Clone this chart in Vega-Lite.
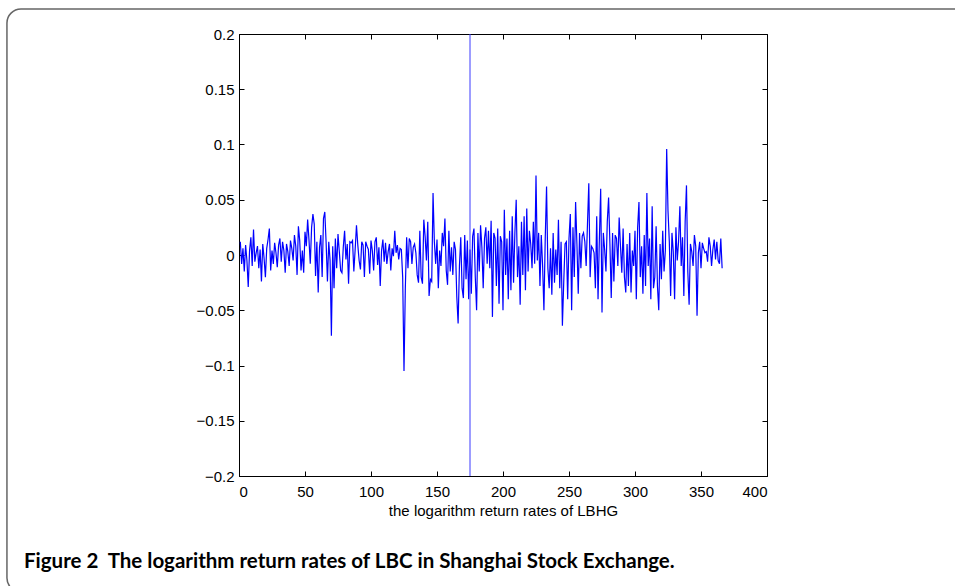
{
  "$schema": "https://vega.github.io/schema/vega-lite/v6.json",
  "autosize": "none",
  "width": 528,
  "height": 442,
  "padding": {"left": 239, "top": 34, "right": 188, "bottom": 110},
  "background": "white",
  "config": {
    "view": {"stroke": "black", "strokeWidth": 1},
    "axis": {
      "labelFont": "Liberation Sans", "labelFontSize": 15, "labelColor": "black",
      "titleFont": "Liberation Sans", "titleFontSize": 15, "titleFontWeight": "normal", "titleColor": "black",
      "domainColor": "black", "tickColor": "black", "grid": false, "tickSize": -5
    }
  },
  "title": {
    "text": "Figure 2\u00a0 The logarithm return rates of LBC in Shanghai Stock Exchange.",
    "orient": "bottom", "anchor": "start", "frame": "group", "dx": -215, "offset": -41,
    "font": "Lato", "fontSize": 20.5, "fontWeight": "bold", "color": "black"
  },
  "datasets": {
    "returns": [
{"t":1,"r":0.012},{"t":2,"r":-0.008},{"t":3,"r":0.006},{"t":4,"r":-0.015},{"t":5,"r":0.009},{"t":6,"r":-0.005},{"t":7,"r":-0.029},{"t":8,"r":0.004},{"t":9,"r":0.016},{"t":10,"r":-0.010},
{"t":11,"r":0.023},{"t":12,"r":-0.006},{"t":13,"r":0.002},{"t":14,"r":0.008},{"t":15,"r":-0.012},{"t":16,"r":0.005},{"t":17,"r":-0.024},{"t":18,"r":0.010},{"t":19,"r":-0.003},{"t":20,"r":-0.020},
{"t":21,"r":0.006},{"t":22,"r":0.014},{"t":23,"r":0.024},{"t":24,"r":-0.014},{"t":25,"r":0.004},{"t":26,"r":-0.008},{"t":27,"r":0.011},{"t":28,"r":0.002},{"t":29,"r":-0.011},{"t":30,"r":0.009},
{"t":31,"r":0.015},{"t":32,"r":-0.006},{"t":33,"r":0.012},{"t":34,"r":0.004},{"t":35,"r":-0.016},{"t":36,"r":0.010},{"t":37,"r":0.003},{"t":38,"r":-0.010},{"t":39,"r":0.013},{"t":40,"r":0.006},
{"t":41,"r":-0.005},{"t":42,"r":0.018},{"t":43,"r":0.008},{"t":44,"r":-0.018},{"t":45,"r":0.026},{"t":46,"r":0.013},{"t":47,"r":-0.014},{"t":48,"r":0.004},{"t":49,"r":-0.016},{"t":50,"r":0.021},
{"t":51,"r":0.008},{"t":52,"r":0.032},{"t":53,"r":0.014},{"t":54,"r":-0.008},{"t":55,"r":0.025},{"t":56,"r":0.037},{"t":57,"r":0.028},{"t":58,"r":-0.019},{"t":59,"r":0.012},{"t":60,"r":-0.034},
{"t":61,"r":0.007},{"t":62,"r":0.018},{"t":63,"r":-0.020},{"t":64,"r":0.033},{"t":65,"r":0.039},{"t":66,"r":0.011},{"t":67,"r":-0.024},{"t":68,"r":0.012},{"t":69,"r":-0.005},{"t":70,"r":-0.073},
{"t":71,"r":0.008},{"t":72,"r":-0.030},{"t":73,"r":0.015},{"t":74,"r":-0.012},{"t":75,"r":0.019},{"t":76,"r":0.003},{"t":77,"r":-0.014},{"t":78,"r":-0.016},{"t":79,"r":0.007},{"t":80,"r":0.022},
{"t":81,"r":-0.004},{"t":82,"r":0.010},{"t":83,"r":-0.026},{"t":84,"r":0.012},{"t":85,"r":0.011},{"t":86,"r":0.013},{"t":87,"r":-0.015},{"t":88,"r":0.005},{"t":89,"r":0.027},{"t":90,"r":0.009},
{"t":91,"r":-0.005},{"t":92,"r":-0.013},{"t":93,"r":0.012},{"t":94,"r":0.009},{"t":95,"r":-0.020},{"t":96,"r":0.012},{"t":97,"r":0.008},{"t":98,"r":0.005},{"t":99,"r":-0.017},{"t":100,"r":0.013},
{"t":101,"r":0.004},{"t":102,"r":-0.014},{"t":103,"r":0.012},{"t":104,"r":0.016},{"t":105,"r":-0.009},{"t":106,"r":0.007},{"t":107,"r":-0.028},{"t":108,"r":0.004},{"t":109,"r":0.014},{"t":110,"r":-0.006},
{"t":111,"r":0.011},{"t":112,"r":-0.008},{"t":113,"r":0.003},{"t":114,"r":0.010},{"t":115,"r":-0.014},{"t":116,"r":0.006},{"t":117,"r":-0.001},{"t":118,"r":0.022},{"t":119,"r":0.002},{"t":120,"r":0.009},
{"t":121,"r":-0.004},{"t":122,"r":0.006},{"t":123,"r":0.005},{"t":124,"r":-0.020},{"t":125,"r":-0.105},{"t":126,"r":-0.030},{"t":127,"r":0.016},{"t":128,"r":-0.012},{"t":129,"r":0.015},{"t":130,"r":0.012},
{"t":131,"r":-0.008},{"t":132,"r":0.007},{"t":133,"r":0.010},{"t":134,"r":0.002},{"t":135,"r":-0.018},{"t":136,"r":-0.025},{"t":137,"r":0.022},{"t":138,"r":-0.020},{"t":139,"r":-0.026},{"t":140,"r":0.032},
{"t":141,"r":0.017},{"t":142,"r":-0.005},{"t":143,"r":0.030},{"t":144,"r":-0.037},{"t":145,"r":-0.022},{"t":146,"r":-0.024},{"t":147,"r":0.056},{"t":148,"r":0.012},{"t":149,"r":-0.008},{"t":150,"r":0.014},
{"t":151,"r":-0.030},{"t":152,"r":0.004},{"t":153,"r":-0.010},{"t":154,"r":0.020},{"t":155,"r":0.008},{"t":156,"r":0.033},{"t":157,"r":-0.014},{"t":158,"r":-0.027},{"t":159,"r":0.022},{"t":160,"r":-0.015},
{"t":161,"r":0.007},{"t":162,"r":-0.018},{"t":163,"r":0.012},{"t":164,"r":0.005},{"t":165,"r":-0.038},{"t":166,"r":-0.062},{"t":167,"r":-0.010},{"t":168,"r":0.016},{"t":169,"r":-0.030},{"t":170,"r":-0.039},
{"t":171,"r":0.018},{"t":172,"r":-0.022},{"t":173,"r":0.013},{"t":174,"r":-0.040},{"t":175,"r":0.005},{"t":176,"r":-0.035},{"t":177,"r":0.017},{"t":178,"r":0.024},{"t":179,"r":-0.020},{"t":180,"r":-0.050},
{"t":181,"r":0.020},{"t":182,"r":-0.015},{"t":183,"r":0.027},{"t":184,"r":0.007},{"t":185,"r":-0.030},{"t":186,"r":0.015},{"t":187,"r":0.025},{"t":188,"r":-0.008},{"t":189,"r":0.022},{"t":190,"r":-0.012},
{"t":191,"r":0.031},{"t":192,"r":-0.056},{"t":193,"r":0.020},{"t":194,"r":0.015},{"t":195,"r":-0.028},{"t":196,"r":0.024},{"t":197,"r":-0.044},{"t":198,"r":0.017},{"t":199,"r":0.012},{"t":200,"r":-0.050},
{"t":201,"r":0.041},{"t":202,"r":-0.018},{"t":203,"r":0.015},{"t":204,"r":-0.040},{"t":205,"r":0.022},{"t":206,"r":-0.032},{"t":207,"r":0.035},{"t":208,"r":-0.025},{"t":209,"r":0.020},{"t":210,"r":0.050},
{"t":211,"r":-0.020},{"t":212,"r":0.008},{"t":213,"r":-0.045},{"t":214,"r":0.030},{"t":215,"r":-0.018},{"t":216,"r":0.035},{"t":217,"r":-0.032},{"t":218,"r":0.042},{"t":219,"r":-0.015},{"t":220,"r":0.022},
{"t":221,"r":0.010},{"t":222,"r":-0.012},{"t":223,"r":0.030},{"t":224,"r":-0.008},{"t":225,"r":0.072},{"t":226,"r":-0.005},{"t":227,"r":0.020},{"t":228,"r":-0.028},{"t":229,"r":0.018},{"t":230,"r":-0.010},
{"t":231,"r":-0.050},{"t":232,"r":0.015},{"t":233,"r":0.062},{"t":234,"r":-0.012},{"t":235,"r":-0.030},{"t":236,"r":0.006},{"t":237,"r":-0.036},{"t":238,"r":0.020},{"t":239,"r":-0.025},{"t":240,"r":0.005},
{"t":241,"r":-0.018},{"t":242,"r":0.032},{"t":243,"r":-0.030},{"t":244,"r":0.012},{"t":245,"r":-0.064},{"t":246,"r":-0.025},{"t":247,"r":0.010},{"t":248,"r":0.012},{"t":249,"r":-0.040},{"t":250,"r":0.015},
{"t":251,"r":0.037},{"t":252,"r":-0.050},{"t":253,"r":0.025},{"t":254,"r":-0.020},{"t":255,"r":0.048},{"t":256,"r":0.010},{"t":257,"r":-0.035},{"t":258,"r":0.020},{"t":259,"r":-0.012},{"t":260,"r":0.017},
{"t":261,"r":0.020},{"t":262,"r":0.012},{"t":263,"r":-0.010},{"t":264,"r":0.028},{"t":265,"r":0.065},{"t":266,"r":-0.020},{"t":267,"r":0.008},{"t":268,"r":0.006},{"t":269,"r":0.002},{"t":270,"r":-0.030},
{"t":271,"r":0.035},{"t":272,"r":-0.040},{"t":273,"r":0.014},{"t":274,"r":0.060},{"t":275,"r":-0.052},{"t":276,"r":0.020},{"t":277,"r":0.005},{"t":278,"r":-0.015},{"t":279,"r":0.030},{"t":280,"r":0.052},
{"t":281,"r":0.010},{"t":282,"r":-0.039},{"t":283,"r":0.020},{"t":284,"r":-0.024},{"t":285,"r":0.018},{"t":286,"r":0.015},{"t":287,"r":-0.010},{"t":288,"r":0.034},{"t":289,"r":0.008},{"t":290,"r":-0.016},
{"t":291,"r":0.024},{"t":292,"r":-0.020},{"t":293,"r":-0.034},{"t":294,"r":0.010},{"t":295,"r":-0.028},{"t":296,"r":0.020},{"t":297,"r":-0.034},{"t":298,"r":0.004},{"t":299,"r":-0.010},{"t":300,"r":0.022},
{"t":301,"r":-0.040},{"t":302,"r":0.025},{"t":303,"r":0.048},{"t":304,"r":-0.020},{"t":305,"r":0.008},{"t":306,"r":-0.035},{"t":307,"r":0.018},{"t":308,"r":-0.028},{"t":309,"r":0.056},{"t":310,"r":-0.010},
{"t":311,"r":0.015},{"t":312,"r":-0.040},{"t":313,"r":0.044},{"t":314,"r":-0.030},{"t":315,"r":-0.020},{"t":316,"r":0.026},{"t":317,"r":-0.028},{"t":318,"r":-0.050},{"t":319,"r":0.010},{"t":320,"r":-0.022},
{"t":321,"r":0.022},{"t":322,"r":-0.015},{"t":323,"r":0.004},{"t":324,"r":0.096},{"t":325,"r":0.040},{"t":326,"r":0.012},{"t":327,"r":-0.037},{"t":328,"r":0.020},{"t":329,"r":0.003},{"t":330,"r":-0.040},
{"t":331,"r":0.025},{"t":332,"r":-0.005},{"t":333,"r":0.012},{"t":334,"r":0.044},{"t":335,"r":-0.010},{"t":336,"r":0.016},{"t":337,"r":-0.037},{"t":338,"r":0.030},{"t":339,"r":0.063},{"t":340,"r":-0.015},
{"t":341,"r":-0.045},{"t":342,"r":0.010},{"t":343,"r":0.003},{"t":344,"r":-0.010},{"t":345,"r":0.018},{"t":346,"r":0.008},{"t":347,"r":-0.055},{"t":348,"r":0.002},{"t":349,"r":0.012},{"t":350,"r":-0.012},
{"t":351,"r":0.011},{"t":352,"r":0.006},{"t":353,"r":0.002},{"t":354,"r":0.003},{"t":355,"r":-0.006},{"t":356,"r":0.016},{"t":357,"r":0.008},{"t":358,"r":-0.010},{"t":359,"r":0.005},{"t":360,"r":0.014},
{"t":361,"r":-0.004},{"t":362,"r":0.012},{"t":363,"r":-0.005},{"t":364,"r":-0.008},{"t":365,"r":0.015},{"t":366,"r":-0.012}
    ]
  },
  "layer": [
    {
      "data": {"values": [{}]},
      "mark": {"type": "rect", "filled": false, "stroke": "#666666", "strokeWidth": 1.5, "cornerRadius": 14, "clip": false},
      "encoding": {
        "x": {"datum": -175.8, "type": "quantitative", "scale": {"domain": [0, 400], "nice": false, "zero": false}, "axis": null},
        "x2": {"datum": 600},
        "y": {"datum": 0.2226, "type": "quantitative", "scale": {"domain": [-0.2, 0.2], "nice": false, "zero": false}, "axis": null},
        "y2": {"datum": -0.305}
      }
    },
    {
      "data": {"name": "returns"},
      "mark": {"type": "line", "color": "#0000ff", "strokeWidth": 1.2, "interpolate": "linear"},
      "encoding": {
        "x": {"field": "t", "type": "quantitative", "scale": {"domain": [0, 400], "nice": false, "zero": false},
              "axis": {"title": "the logarithm return rates of LBHG", "values": [0,50,100,150,200,250,300,350,400], "labelPadding": 13, "titlePadding": 4}},
        "y": {"field": "r", "type": "quantitative", "scale": {"domain": [-0.2, 0.2], "nice": false, "zero": false},
              "axis": {"title": null, "values": [-0.2,-0.15,-0.1,-0.05,0,0.05,0.1,0.15,0.2], "format": "~g", "labelPadding": 10}}
      }
    },
    {
      "data": {"values": [{}]},
      "mark": {"type": "rule", "color": "#3b3bff", "strokeWidth": 1},
      "encoding": {
        "x": {"datum": 175, "type": "quantitative", "scale": {"domain": [0, 400], "nice": false, "zero": false},
              "axis": {"orient": "top", "labels": false, "title": null, "domain": false, "values": [0,50,100,150,200,250,300,350,400]}}
      }
    },
    {
      "data": {"values": [{}]},
      "mark": {"type": "point", "opacity": 0},
      "encoding": {
        "y": {"datum": 0, "type": "quantitative", "scale": {"domain": [-0.2, 0.2], "nice": false, "zero": false},
              "axis": {"orient": "right", "labels": false, "title": null, "domain": false, "values": [-0.2,-0.15,-0.1,-0.05,0,0.05,0.1,0.15,0.2]}}
      }
    }
  ],
  "resolve": {"axis": {"x": "independent", "y": "independent"}}
}
